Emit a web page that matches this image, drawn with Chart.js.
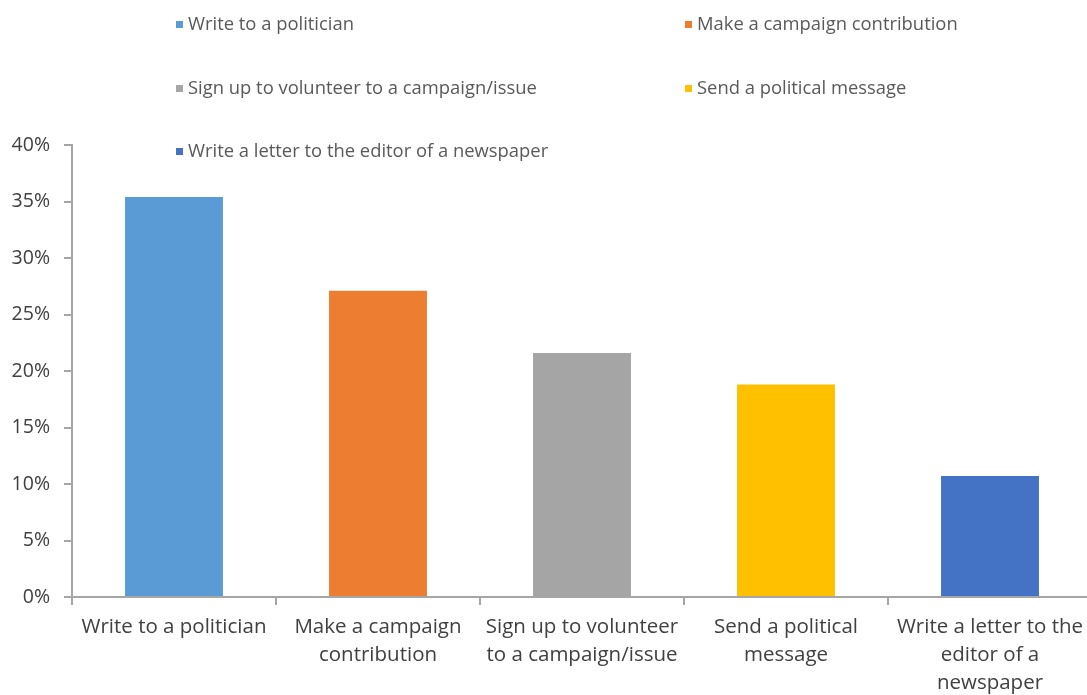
<!DOCTYPE html>
<html>
<head>
<meta charset="utf-8">
<script src="https://cdn.jsdelivr.net/npm/chart.js@4/dist/chart.umd.min.js"></script>
<style>
  html, body { margin: 0; padding: 0; background: #fff; overflow: hidden; }
  #wrap { position: relative; width: 1093px; height: 695px; }
</style>
</head>
<body>
<div id="wrap"><canvas id="chart"></canvas></div>
<script>
// Share of respondents who took each political action
const categories = [
  'Write to a politician',
  'Make a campaign contribution',
  'Sign up to volunteer to a campaign/issue',
  'Send a political message',
  'Write a letter to the editor of a newspaper'
];
const tickLabels = [
  ['Write to a politician'],
  ['Make a campaign', 'contribution'],
  ['Sign up to volunteer', 'to a campaign/issue'],
  ['Send a political', 'message'],
  ['Write a letter to the', 'editor of a', 'newspaper']
];
const values = [35.4, 27.1, 21.6, 18.8, 10.7];
const barColors = ['#5B9BD5', '#ED7D31', '#A5A5A5', '#FFC000', '#4472C4'];
const yTicks = [0, 5, 10, 15, 20, 25, 30, 35, 40];

const FONT = '"Open Sans", "Liberation Sans", sans-serif';
const AXIS_GRAY = '#A6A6A6';
const TEXT = '#404040';

// Two-column legend drawn over the top of the chart
const gridLegend = {
  id: 'gridLegend',
  afterDraw(chart) {
    const ctx = chart.ctx;
    const cols = [176, 685];
    const rowY = [25, 89, 152];
    ctx.save();
    ctx.font = '18.4px ' + FONT;
    ctx.textBaseline = 'middle';
    ctx.textAlign = 'left';
    categories.forEach((name, i) => {
      const x = cols[i % 2];
      const y = rowY[Math.floor(i / 2)];
      ctx.fillStyle = barColors[i];
      ctx.fillRect(x, y - 4, 7, 7);
      ctx.fillStyle = '#595959';
      ctx.fillText(name, x + 12, y);
    });
    ctx.restore();
  }
};

new Chart(document.getElementById('chart'), {
  type: 'bar',
  data: {
    labels: tickLabels,
    datasets: [{
      data: values,
      backgroundColor: barColors,
      borderWidth: 0,
      barPercentage: 0.48,
      categoryPercentage: 1.0
    }]
  },
  options: {
    responsive: true,
    maintainAspectRatio: false,
    animation: false,
    layout: { padding: { top: 145, right: 1, left: 0, bottom: 0 } },
    plugins: { legend: { display: false }, tooltip: { enabled: false } },
    scales: {
      x: {
        offset: true,
        border: { display: true, color: AXIS_GRAY, width: 2 },
        grid: {
          offset: true,
          drawOnChartArea: false,
          drawTicks: true,
          tickLength: 8,
          color: AXIS_GRAY,
          lineWidth: 2
        },
        ticks: {
          color: TEXT,
          padding: 8,
          maxRotation: 0,
          autoSkip: false,
          font: { family: FONT, size: 20.5, lineHeight: 1.37 }
        },
        afterFit(scale) { scale.height = 98; }
      },
      y: {
        min: 0,
        max: 40,
        afterBuildTicks(scale) { scale.ticks = yTicks.map(v => ({ value: v })); },
        border: { display: true, color: AXIS_GRAY, width: 2 },
        grid: {
          drawOnChartArea: false,
          drawTicks: true,
          tickLength: 8,
          color: AXIS_GRAY,
          lineWidth: 2
        },
        ticks: {
          color: TEXT,
          padding: 14,
          font: { family: FONT, size: 19.5 },
          callback: v => v + '%'
        },
        afterFit(scale) { scale.width = 72; }
      }
    }
  },
  plugins: [gridLegend]
});
</script>
</body>
</html>
